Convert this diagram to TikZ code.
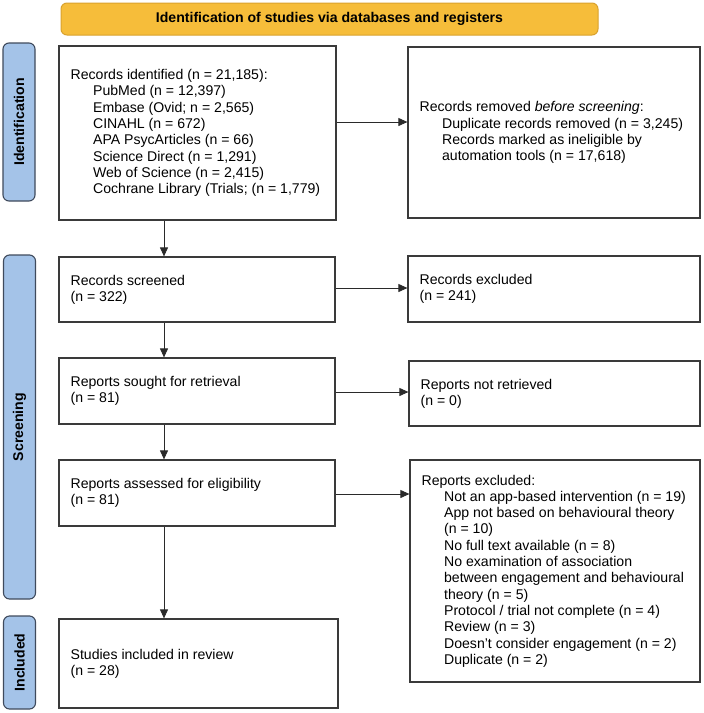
\documentclass[tikz,border=0pt]{standalone}
\usepackage{fontspec}
\setmainfont{Liberation Sans}
\usetikzlibrary{arrows.meta}
\definecolor{bannerfill}{HTML}{F6BD3A}
\definecolor{bannerdraw}{HTML}{D9A22E}
\definecolor{bandfill}{HTML}{A4C3E8}
\definecolor{banddraw}{HTML}{3F4A5C}
\definecolor{boxdraw}{HTML}{3A3A3A}
\definecolor{arrc}{HTML}{2A2A2A}
\begin{document}
\begin{tikzpicture}[x=1pt,y=-1pt,
  every node/.style={font=\fontsize{14.1}{16.3}\selectfont},
  banner/.style={draw=bannerdraw, fill=bannerfill, line width=1pt, rounded corners=6pt,
    minimum width=537pt, minimum height=32pt, inner sep=0pt, font=\fontsize{14.1}{16.3}\selectfont\bfseries},
  band/.style={draw=banddraw, fill=bandfill, line width=1.1pt, rounded corners=6pt,
    rotate=90, inner sep=0pt, minimum height=32pt, font=\fontsize{14.1}{16.3}\selectfont\bfseries},
  box/.style={draw=boxdraw, line width=1.2pt, inner sep=0pt},
  txt/.style={anchor=west, align=left, inner sep=0pt},
  arr/.style={draw=arrc, line width=0.9pt, -{Triangle[length=9pt,width=8pt]}}
]
\useasboundingbox (0,0) rectangle (704,713);

% banner
\node[banner] (ban) at (329.5,19) {Identification of studies via databases and registers};

% side bands
\node[band, minimum width=158pt] (bid) at (19,122) {Identification};
\node[band, minimum width=344pt] (bsc) at (19.5,427) {Screening};
\node[band, minimum width=93pt] (bin) at (19.5,662.5) {Included};

% boxes
\node[box, minimum width=277pt, minimum height=174pt] (b1) at (197.5,133) {};
\node[box, minimum width=292pt, minimum height=171pt] (r1) at (554,132.5) {};
\node[box, minimum width=276pt, minimum height=65pt] (s1) at (197,289.5) {};
\node[box, minimum width=292pt, minimum height=66pt] (r2) at (554,289) {};
\node[box, minimum width=276pt, minimum height=66pt] (s2) at (197,391) {};
\node[box, minimum width=291pt, minimum height=65pt] (r3) at (554.5,393.5) {};
\node[box, minimum width=276pt, minimum height=66pt] (s3) at (197,493) {};
\node[box, minimum width=290pt, minimum height=222pt] (r4) at (555,571) {};
\node[box, minimum width=279pt, minimum height=89pt] (s4) at (198.5,663.5) {};

% texts
\node[txt] (tb1) at ([xshift=12pt]b1.west) {Records identified (n = 21,185):\\
\hspace*{22.5pt}PubMed (n = 12,397)\\
\hspace*{22.5pt}Embase (Ovid; n = 2,565)\\
\hspace*{22.5pt}CINAHL (n = 672)\\
\hspace*{22.5pt}APA PsycArticles (n = 66)\\
\hspace*{22.5pt}Science Direct (n = 1,291)\\
\hspace*{22.5pt}Web of Science (n = 2,415)\\
\hspace*{22.5pt}Cochrane Library (Trials; (n = 1,779)};
\node[txt] (tr1) at ([xshift=12pt]r1.west) {Records removed \textit{before screening}:\\
\hspace*{22.5pt}Duplicate records removed (n = 3,245)\\
\hspace*{22.5pt}Records marked as ineligible by\\
\hspace*{22.5pt}automation tools (n = 17,618)};
\node[txt] (ts1) at ([xshift=12pt]s1.west) {Records screened\\(n = 322)};
\node[txt] (tr2) at ([xshift=12pt]r2.west) {Records excluded\\(n = 241)};
\node[txt] (ts2) at ([xshift=12pt]s2.west) {Reports sought for retrieval\\(n = 81)};
\node[txt] (tr3) at ([xshift=12pt]r3.west) {Reports not retrieved\\(n = 0)};
\node[txt] (ts3) at ([xshift=12pt]s3.west) {Reports assessed for eligibility\\(n = 81)};
\node[txt] (tr4) at ([xshift=12pt]r4.west) {Reports excluded:\\
\hspace*{22.5pt}Not an app-based intervention (n = 19)\\
\hspace*{22.5pt}App not based on behavioural theory\\
\hspace*{22.5pt}(n = 10)\\
\hspace*{22.5pt}No full text available (n = 8)\\
\hspace*{22.5pt}No examination of association\\
\hspace*{22.5pt}between engagement and behavioural\\
\hspace*{22.5pt}theory (n = 5)\\
\hspace*{22.5pt}Protocol / trial not complete (n = 4)\\
\hspace*{22.5pt}Review (n = 3)\\
\hspace*{22.5pt}Doesn’t consider engagement (n = 2)\\
\hspace*{22.5pt}Duplicate (n = 2)};
\node[txt] (ts4) at ([xshift=12pt]s4.west) {Studies included in review\\(n = 28)};

% horizontal arrows
\coordinate (h1) at ([yshift=11pt]b1.east);
\draw[arr] (h1) -- (h1 -| r1.west);
\coordinate (h2) at ([yshift=1.5pt]s1.east);
\draw[arr] (h2) -- (h2 -| r2.west);
\coordinate (h3) at ([yshift=-1pt]s2.east);
\draw[arr] (h3) -- (h3 -| r3.west);
\coordinate (h4) at ([yshift=-1pt]s3.east);
\draw[arr] (h4) -- (h4 -| r4.west);

% vertical arrows
\coordinate (v1) at ([xshift=-33.5pt]b1.south);
\draw[arr] (v1) -- (v1 |- s1.north);
\coordinate (v2) at ([xshift=-33pt]s1.south);
\draw[arr] (v2) -- (v2 |- s2.north);
\coordinate (v3) at ([xshift=-33pt]s2.south);
\draw[arr] (v3) -- (v3 |- s3.north);
\coordinate (v4) at ([xshift=-33pt]s3.south);
\draw[arr] (v4) -- (v4 |- s4.north);
\end{tikzpicture}
\end{document}
